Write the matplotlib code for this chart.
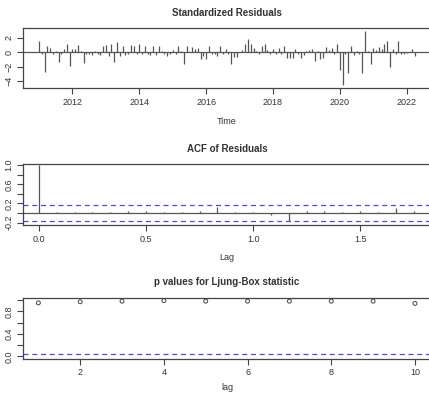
import numpy as np
import matplotlib
matplotlib.use('Agg')
import matplotlib.pyplot as plt

# standardized residuals, monthly, Jan 2011 .. Apr 2022
resid = [
    1.5, -0.2, -2.7, 0.8, 0.6, -0.3, 0.1, -1.3, -0.2, 0.4, 1.2, -1.9,   # 2011
    0.5, 0.4, 1.0, 0.2, -1.5, -0.2, -0.3, -0.4, 0.1, -0.2, -0.4, 0.9,   # 2012
    1.0, -0.5, 1.2, -1.3, 1.4, -0.5, 0.8, -0.4, -0.3, 1.0, 0.8, -0.2,   # 2013
    1.2, -0.3, 0.9, -0.2, -0.4, 0.8, -0.4, 0.9, 0.2, -0.3, -0.5, -0.3,  # 2014
    0.3, -0.3, 0.9, 0.2, -1.7, 0.8, 0.0, 0.7, 0.5, 0.6, -1.0, -0.5,     # 2015
    -1.0, 0.9, -0.3, -0.3, -0.5, 0.9, -0.2, 0.4, -0.3, -1.6, -0.7, -0.6,  # 2016
    0.0, 0.3, 1.1, 1.8, 1.1, 0.6, 0.2, -0.2, 0.9, 1.2, 0.3, -0.2,       # 2017
    0.4, -0.2, 0.6, -0.2, 0.9, -0.8, -0.8, -0.8, 0.4, -0.3, -0.8, -0.4,  # 2018
    0.1, 0.3, 0.5, -1.2, 0.2, -1.0, -0.8, 0.7, 0.3, 0.6, -0.2, 1.2,     # 2019
    -2.4, -4.6, -0.3, -2.9, 0.8, -0.4, 0.2, -0.3, -2.9, 3.0, 0.2, -1.7,  # 2020
    0.6, 0.3, 0.7, 0.4, 1.1, 1.5, -2.0, 0.5, -0.3, 1.5, -0.3, -0.2,     # 2021
    -0.1, 0.0, 0.4, -0.5,                                               # 2022
]
start_year = 2011.0

# ACF of residuals, lags 0..21 months
acf_vals = [1.0, 0.02, 0.02, 0.03, 0.03, 0.05, 0.05, 0.03, 0.02, 0.04, 0.12,
            0.03, 0.03, -0.04, -0.17, 0.04, 0.04, 0.03, 0.04, 0.03, 0.10, 0.05]

# Ljung-Box p values, lags 1..10
lb_lags = [1, 2, 3, 4, 5, 6, 7, 8, 9, 10]
lb_pvals = [0.95, 0.97, 0.98, 0.99, 0.98, 0.98, 0.98, 0.98, 0.98, 0.94]

plt.rcParams['font.family'] = ['Liberation Sans', 'DejaVu Sans']
axcol = '#444444'
txtcol = '#333333'
blue = '#4a4ae0'


def r_style(ax):
    for s in ax.spines.values():
        s.set_color(axcol)
        s.set_linewidth(0.9)
    ax.tick_params(direction='out', length=4, width=0.8, color=axcol,
                   labelsize=6.5, labelcolor=txtcol, pad=3)
    for lab in ax.get_yticklabels():
        lab.set_rotation(90)
        lab.set_va('center')


fig = plt.figure(figsize=(4.29, 3.93), dpi=100)

# panel 1
n = len(resid)
t = start_year + np.arange(n) / 12.0
ax1 = fig.add_axes([0.0543, 0.7753, 0.95, 0.1534])
ax1.vlines(t, 0, resid, color='#555555', linewidth=0.9)
ax1.axhline(0, color='#555555', linewidth=0.9)
ax1.set_xlim(2010.53, 2022.72)
ax1.set_ylim(-5.0, 3.35)
ax1.set_xticks([2012, 2014, 2016, 2018, 2020, 2022])
ax1.set_yticks([-4, -2, 0, 2])
ax1.set_title('Standardized Residuals', fontsize=7, fontweight='bold',
              color=txtcol, pad=9)
ax1.set_xlabel('Time', fontsize=6.5, color=txtcol, labelpad=7)
r_style(ax1)

# panel 2
lags = np.arange(len(acf_vals)) / 12.0
ax2 = fig.add_axes([0.0543, 0.4275, 0.95, 0.1545])
ax2.vlines(lags, 0, acf_vals, color='#555555', linewidth=0.9)
ax2.axhline(0, color='#555555', linewidth=0.9)
ci = 2 / np.sqrt(n)
ax2.axhline(ci, color=blue, linestyle=(0, (4, 3)), linewidth=0.9)
ax2.axhline(-ci, color=blue, linestyle=(0, (4, 3)), linewidth=0.9)
ax2.set_xlim(-0.073, 1.83)
ax2.set_ylim(-0.25, 1.015)
ax2.set_xticks([0.0, 0.5, 1.0, 1.5])
ax2.set_yticks([-0.2, 0.0, 0.2, 0.4, 0.6, 0.8, 1.0])
ax2.set_yticklabels(['-0.2', '', '0.2', '', '0.6', '', '1.0'])
ax2.set_title('ACF of Residuals', fontsize=7, fontweight='bold',
              color=txtcol, pad=9)
ax2.set_xlabel('Lag', fontsize=6.5, color=txtcol, labelpad=7)
r_style(ax2)

# panel 3
ax3 = fig.add_axes([0.0543, 0.0873, 0.95, 0.155])
ax3.scatter(lb_lags, lb_pvals, s=8, facecolors='none', edgecolors='#444444',
            linewidths=0.7)
ax3.axhline(0.05, color=blue, linestyle=(0, (4, 3)), linewidth=0.9)
ax3.set_xlim(0.64, 10.38)
ax3.set_ylim(-0.04, 1.04)
ax3.set_xticks([2, 4, 6, 8, 10])
ax3.set_yticks([0.0, 0.2, 0.4, 0.6, 0.8, 1.0])
ax3.set_yticklabels(['0.0', '', '0.4', '', '0.8', ''])
ax3.set_title('p values for Ljung-Box statistic', fontsize=7,
              fontweight='bold', color=txtcol, pad=9)
ax3.set_xlabel('lag', fontsize=6.5, color=txtcol, labelpad=4)
r_style(ax3)

fig.savefig('out.png', dpi=100)
plt.close(fig)
